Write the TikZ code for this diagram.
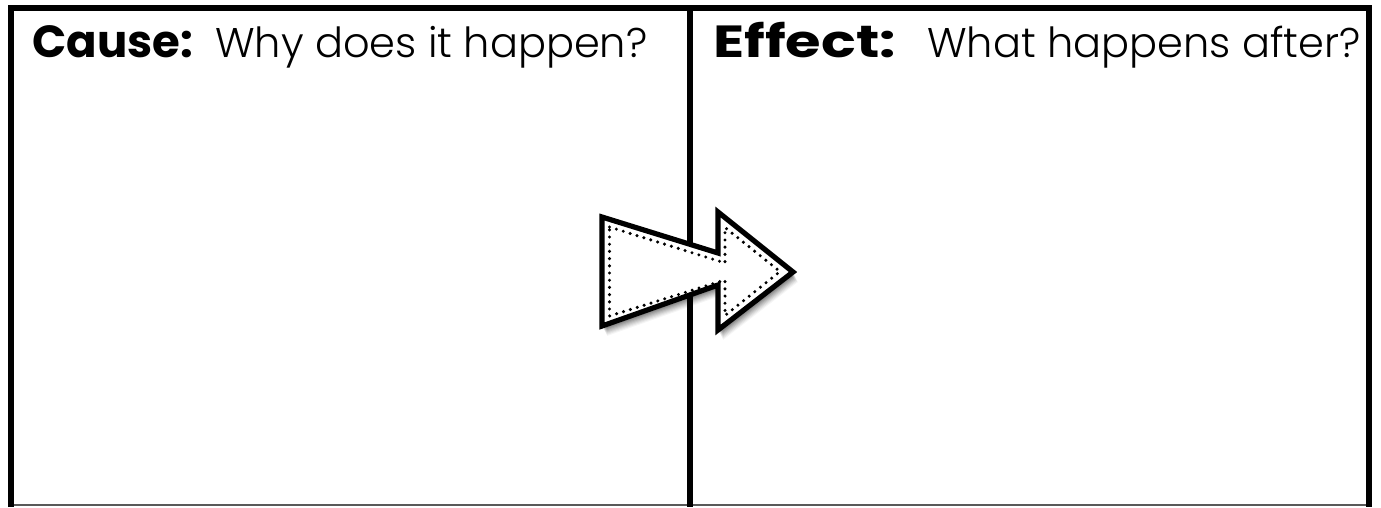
\documentclass[tikz,border=0pt]{standalone}
\usepackage{fontspec}
\newfontfamily\headfont{Poppins}[UprightFont=* Bold]
\newfontfamily\bodyfont{Poppins Light}
\tikzset{
  frame/.style={line width=6pt, line cap=butt},
  head/.style={anchor=base west, inner sep=0pt, font=\headfont\fontsize{45}{48}\selectfont},
  body/.style={anchor=base west, inner sep=0pt, font=\bodyfont\fontsize{41.5}{46}\selectfont},
  arrowshape/.style={line width=5.2pt, line join=miter, fill=white},
  dots/.style={line width=3.4pt, line cap=round, dash pattern=on 0pt off 7.2pt}
}
\begin{document}
\begin{tikzpicture}[x=1pt,y=-1pt]
\useasboundingbox[fill=white] (0,0) rectangle (1381,507);
% frame
\coordinate (bl) at (11,507);
\coordinate (tl) at (11,8);
\coordinate (tr) at (1369,8);
\coordinate (br) at (1369,507);
\coordinate (mt) at (690,8);
\coordinate (mb) at (690,507);
\coordinate (b1) at (11,505);
\coordinate (b2) at (1369,505);
\draw[line width=1.2pt, gray!70!black] (b1) -- (b2);
\draw[frame] (bl) -- ([yshift=3pt]tl);
\draw[frame] ([xshift=-3pt]tl) -- ([xshift=3pt]tr);
\draw[frame] ([yshift=3pt]tr) -- (br);
\draw[frame] (mt) -- (mb);
% texts
\node[head] (cause) at (32,57) {Cause:};
\node[body] (causeq) at (215,57) {Why does it happen?};
\node[head] (effect) at (713,57) {\scalebox{1.28}[1]{Effect:}};
\node[body] (effectq) at (927,57) {What happens after?};
% arrow shadow
\foreach \o/\a in {10/0.04,9/0.05,8/0.06,7/0.07,6/0.08,5/0.09,4/0.1,3/0.1}{
  \fill[black, opacity=\a, shift={(\o*0.5,\o)}]
    (602,217) -- (718,253) -- (718,212) -- (793,272) -- (718,330) -- (718,285) -- (602,326) -- cycle;
}
% arrow
\draw[arrowshape] (602,217) -- (718,253) -- (718,212) -- (793,272) -- (718,330) -- (718,285) -- (602,326) -- cycle;
\draw[dots] (609.5,227) -- (725,263) -- (725,227.5) -- (780,271.5) -- (725,315.5) -- (725,280) -- (609.5,316) -- cycle;
\end{tikzpicture}
\end{document}
